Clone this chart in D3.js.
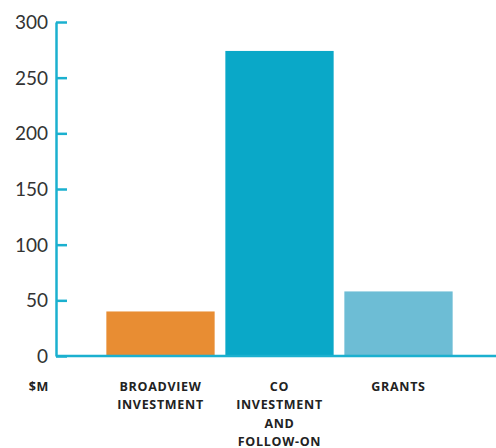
<!DOCTYPE html>
<html lang="en">
<head>
  <meta charset="UTF-8">
  <title>Funding by type</title>
  <script src="https://d3js.org/d3.v7.min.js"></script>
  <style>
    body { margin: 0; background: #fff; }
    .axis path, .axis line { stroke: #1bb0cf; stroke-width: 2.5; }
    .axis text { font-family: Lato, sans-serif; font-weight: 400; font-size: 19px; fill: #333; }
    .cat { font-family: "Open Sans", sans-serif; font-weight: 700; font-size: 12.5px; letter-spacing: 0.7px; fill: #222; }
  </style>
</head>
<body>
  <svg width="496" height="448"></svg>
  <script>
    const categories = [
      ['BROADVIEW', 'INVESTMENT'],
      ['CO', 'INVESTMENT', 'AND', 'FOLLOW-ON'],
      ['GRANTS']
    ];
    const values = [40, 274, 58];
    const colors = ['#e88d33', '#0aa8c8', '#6dbdd5'];
    const yTicks = [0, 50, 100, 150, 200, 250, 300];
    const unitLabel = '$M';

    const svg = d3.select('svg');
    const axisX = 56, plotTop = 22, plotBottom = 356;

    const x = d3.scaleBand()
      .domain(d3.range(values.length))
      .range([101, 458])
      .paddingInner(0.09)
      .paddingOuter(0.045);

    const y = d3.scaleLinear()
      .domain([0, 300])
      .range([plotBottom, plotTop]);

    // bars
    svg.selectAll('.bar')
      .data(values)
      .enter()
      .append('rect')
      .attr('class', 'bar')
      .attr('x', (d, i) => x(i))
      .attr('y', d => y(d))
      .attr('width', x.bandwidth())
      .attr('height', d => plotBottom - y(d))
      .attr('fill', (d, i) => colors[i]);

    // x axis line
    svg.append('line')
      .attr('class', 'xline')
      .attr('x1', axisX).attr('x2', 496)
      .attr('y1', plotBottom).attr('y2', plotBottom)
      .attr('stroke', '#1bb0cf')
      .attr('stroke-width', 2.5);

    // y axis
    const yAxis = d3.axisLeft(y)
      .tickValues(yTicks)
      .tickSizeInner(-11)
      .tickSizeOuter(0)
      .tickPadding(8);

    svg.append('g')
      .attr('class', 'axis')
      .attr('transform', `translate(${axisX},0)`)
      .call(yAxis)
      .call(g => g.selectAll('text').attr('dy', '0.35em'));

    // category labels
    const lineH = 18.3;
    categories.forEach((lines, i) => {
      const t = svg.append('text')
        .attr('class', 'cat')
        .attr('text-anchor', 'middle')
        .attr('x', x(i) + x.bandwidth() / 2)
        .attr('y', 391);
      lines.forEach((l, j) => {
        t.append('tspan')
          .attr('x', x(i) + x.bandwidth() / 2)
          .attr('dy', j === 0 ? 0 : lineH)
          .text(l);
      });
    });

    svg.append('text')
      .attr('class', 'cat')
      .attr('text-anchor', 'end')
      .attr('x', 49)
      .attr('y', 391)
      .text(unitLabel);
  </script>
</body>
</html>
